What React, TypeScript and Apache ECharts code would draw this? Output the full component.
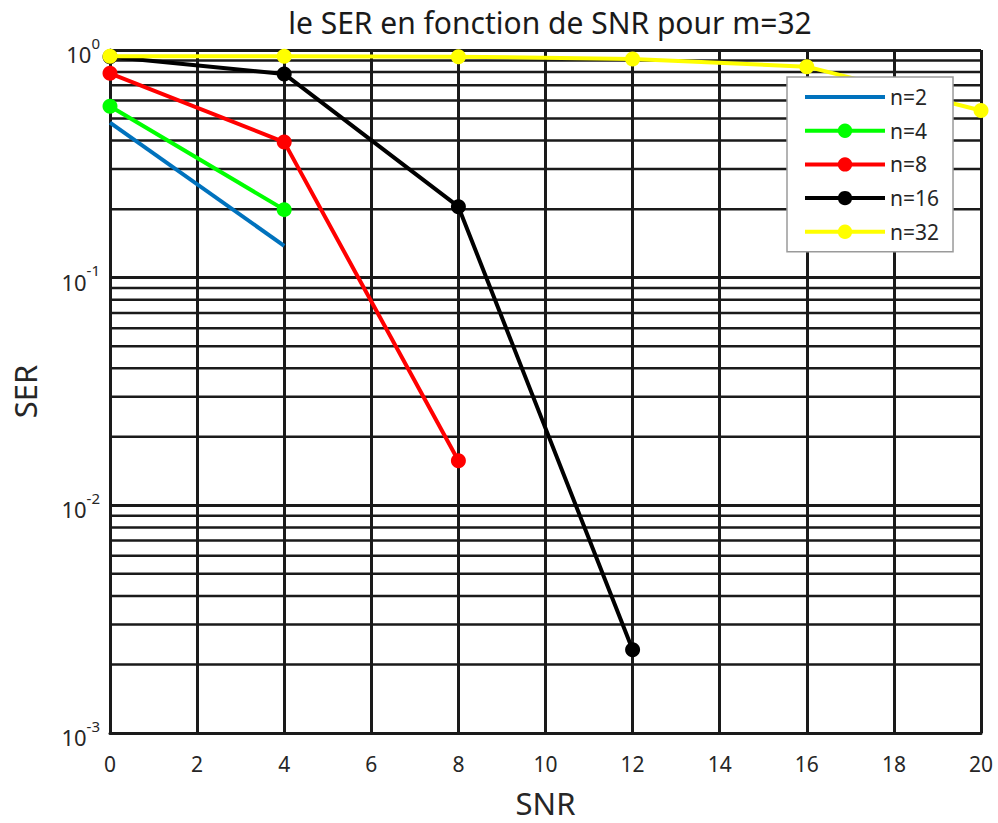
import React, { useEffect, useRef } from "react";
import * as echarts from "echarts";

const snr = [0, 4, 8, 12, 16, 20];
const ser2 = [0.48, 0.138, null, null, null, null];
const ser4 = [0.566, 0.199, null, null, null, null];
const ser8 = [0.79, 0.394, 0.0157, null, null, null];
const ser16 = [0.935, 0.785, 0.205, 0.00232, null, null];
const ser32 = [0.938, 0.938, 0.935, 0.913, 0.845, 0.542];
const seriesNames = ["n=2", "n=4", "n=8", "n=16", "n=32"];
const seriesColors = ["#0072BD", "#00FF00", "#FF0000", "#000000", "#FFFF00"];
const minorMultipliers = [2, 3, 4, 5, 6, 7, 8, 9];
const minorDecades = [0.001, 0.01, 0.1];
const titleText = "le SER en fonction de SNR pour m=32";

const FONT = "'Noto Sans', 'DejaVu Sans', sans-serif";
const GRID_COLOR = "#1a1a1a";
const X_MIN = 0;
const X_MAX = 20;

export default function App() {
  const ref = useRef<HTMLDivElement>(null);
  useEffect(() => {
    if (!ref.current) return;
    const chart = echarts.init(ref.current, null, { renderer: "svg" });
    const allSeries = [ser2, ser4, ser8, ser16, ser32];
    const minorData: any[] = [];
    minorDecades.forEach((d) =>
      minorMultipliers.forEach((m) => {
        const v = +(m * d).toPrecision(3);
        minorData.push([X_MIN, v], [X_MAX, v], [X_MAX, "-"]);
      })
    );

    const lineSeries = allSeries.map((vals, i) => ({
      name: seriesNames[i],
      type: "line",
      data: snr.map((x, j) => [x, vals[j] == null ? "-" : vals[j]]),
      connectNulls: false,
      showSymbol: i !== 0,
      symbol: i === 0 ? "none" : "circle",
      symbolSize: 15,
      lineStyle: { color: seriesColors[i], width: 4 },
      itemStyle: { color: seriesColors[i] },
      z: 3 + i,
      silent: true,
    }));

    chart.setOption({
      animation: false,
      backgroundColor: "#ffffff",
      title: {
        text: titleText,
        left: 545,
        textAlign: "center",
        top: 2,
        textStyle: { fontFamily: FONT, fontSize: 30, fontWeight: "normal", color: "#1a1a1a" },
      },
      grid: { left: 110, right: 17, top: 50, bottom: 86, containLabel: false },
      legend: {
        data: [
          { name: "n=2", itemStyle: { opacity: 0 } },
          "n=4",
          "n=8",
          "n=16",
          "n=32",
        ],
        orient: "vertical",
        left: 787,
        top: 77,
        padding: [9, 14, 9, 16],
        itemWidth: 80,
        itemHeight: 18,
        itemGap: 11.7,
        itemTextGap: 9,
        backgroundColor: "#ffffff",
        borderColor: "#9a9a9a",
        borderWidth: 1.5,
        borderRadius: 0,
        lineStyle: { width: 4 },
        textStyle: { fontFamily: FONT, fontSize: 21, lineHeight: 22, color: "#262626" },
        z: 20,
      },
      xAxis: {
        type: "value",
        min: X_MIN,
        max: X_MAX,
        interval: 2,
        name: "SNR",
        nameLocation: "middle",
        nameGap: 54,
        nameTextStyle: { fontFamily: FONT, fontSize: 31, color: "#262626" },
        axisLine: { show: true, lineStyle: { color: GRID_COLOR, width: 3 } },
        axisTick: { show: false },
        axisLabel: { fontFamily: FONT, fontSize: 21, color: "#262626", margin: 20 },
        splitLine: { show: true, lineStyle: { color: GRID_COLOR, width: 3 } },
      },
      yAxis: {
        type: "log",
        logBase: 10,
        min: 0.001,
        max: 1,
        interval: 1,
        name: "SER",
        nameLocation: "middle",
        nameGap: 70,
        nameTextStyle: { fontFamily: FONT, fontSize: 31, color: "#262626" },
        axisLine: { show: true, lineStyle: { color: GRID_COLOR, width: 3 } },
        axisTick: { show: false },
        axisLabel: {
          margin: 10,
          formatter: (v: number) => `{b|10}{s|${Math.round(Math.log10(v))}}`,
          rich: {
            b: { fontFamily: FONT, fontSize: 22, color: "#262626", lineHeight: 30, verticalAlign: "bottom" },
            s: { fontFamily: FONT, fontSize: 15, color: "#262626", lineHeight: 30, verticalAlign: "top" },
          },
        },
        splitLine: { show: true, lineStyle: { color: GRID_COLOR, width: 3 } },
      },
      series: [
        {
          name: "minor",
          type: "line",
          data: minorData,
          connectNulls: false,
          showSymbol: false,
          symbol: "none",
          z: 1,
          silent: true,
          lineStyle: { color: GRID_COLOR, width: 2.5 },
          itemStyle: { color: GRID_COLOR },
        },
        ...lineSeries,
      ],
    });
    return () => chart.dispose();
  }, []);
  return (
    <div
      ref={ref}
      style={{ position: "absolute", left: 0, top: 0, width: 998, height: 823 }}
    />
  );
}
